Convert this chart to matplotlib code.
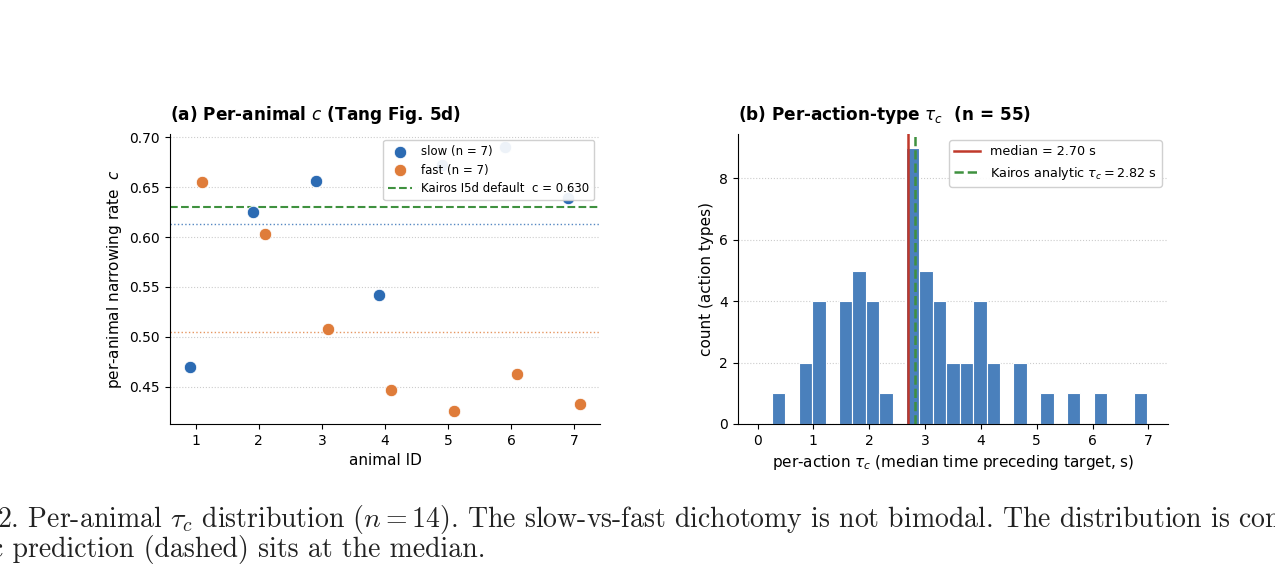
import matplotlib
matplotlib.use("Agg")
import matplotlib.pyplot as plt
import numpy as np

# panel (a): per-animal narrowing rate c
slow_ids = [1, 2, 3, 4, 5, 6, 7]
slow_c = [0.470, 0.625, 0.656, 0.542, 0.672, 0.690, 0.639]
fast_ids = [1, 2, 3, 4, 5, 6, 7]
fast_c = [0.655, 0.603, 0.508, 0.447, 0.426, 0.463, 0.433]
kairos_c = 0.630

# panel (b): per-action-type tau_c histogram (28 bins)
bin_lo = 0.26
bin_hi = 6.98
counts = [1, 0, 2, 4, 0, 4, 5, 4, 1, 0, 9, 5, 4, 2, 2, 4, 2, 0, 2, 0,
          1, 0, 1, 0, 1, 0, 0, 1]
median_tau = 2.70
kairos_tau = 2.82

C_SLOW = "#2c6bb3"
C_FAST = "#df7c3a"
C_BAR = "#4a80bc"
C_GREEN = "#3f913f"
C_RED = "#c0392b"

plt.rcParams["font.family"] = "DejaVu Sans"
plt.rcParams["font.size"] = 10
plt.rcParams["mathtext.fontset"] = "dejavusans"

fig = plt.figure(figsize=(12.75, 5.76), dpi=100)
ax1 = fig.add_axes([0.1333, 0.2639, 0.3373, 0.5035])
ax2 = fig.add_axes([0.5788, 0.2639, 0.3373, 0.5035])

# ---- (a)
ax1.scatter(np.array(slow_ids) - 0.1, slow_c, s=80, color=C_SLOW,
            edgecolor="white", linewidth=0.6, label="slow (n = 7)", zorder=3)
ax1.scatter(np.array(fast_ids) + 0.1, fast_c, s=80, color=C_FAST,
            edgecolor="white", linewidth=0.6, label="fast (n = 7)", zorder=3)
ax1.axhline(kairos_c, color=C_GREEN, ls="--", lw=1.5,
            label="Kairos I5d default  c = %.3f" % kairos_c, zorder=2)
ax1.axhline(np.mean(slow_c), color=C_SLOW, ls=":", lw=1.0, alpha=0.8, zorder=1)
ax1.axhline(np.mean(fast_c), color=C_FAST, ls=":", lw=1.0, alpha=0.8, zorder=1)
ax1.set_xticks(range(1, 8))
ax1.set_xlabel("animal ID", fontsize=11)
ax1.set_ylabel("per-animal narrowing rate  $c$", fontsize=11)
ax1.set_title("(a) Per-animal $c$ (Tang Fig. 5d)", loc="left",
              fontweight="bold", fontsize=12.2, pad=10)
ax1.legend(loc="upper right", fontsize=8.5, framealpha=0.92)
ax1.grid(axis="y", ls=":", color="#cccccc", lw=0.8)
ax1.set_axisbelow(True)

# ---- (b)
edges = np.linspace(bin_lo, bin_hi, len(counts) + 1)
ax2.bar(edges[:-1], counts, width=np.diff(edges), align="edge",
        color=C_BAR, edgecolor="white", linewidth=0.8, zorder=2)
ax2.axvline(median_tau, color=C_RED, lw=1.8,
            label="median = %.2f s" % median_tau, zorder=3)
ax2.axvline(kairos_tau, color=C_GREEN, ls="--", lw=1.8,
            label=r"Kairos analytic $\tau_c = %.2f$ s" % kairos_tau, zorder=3)
ax2.set_xlim(-0.35, 7.35)
ax2.set_xticks(range(0, 8))
ax2.set_yticks([0, 2, 4, 6, 8])
ax2.set_xlabel(r"per-action $\tau_c$ (median time preceding target, s)",
               fontsize=11)
ax2.set_ylabel("count (action types)", fontsize=11)
ax2.set_title(r"(b) Per-action-type $\tau_c$  (n = 55)", loc="left",
              fontweight="bold", fontsize=12.2, pad=10)
ax2.legend(loc="upper right", fontsize=9.2, framealpha=0.92)
ax2.grid(axis="y", ls=":", color="#cccccc", lw=0.8)
ax2.set_axisbelow(True)

for ax in (ax1, ax2):
    ax.spines["top"].set_visible(False)
    ax.spines["right"].set_visible(False)

# caption text from the page (clipped at the edges)
fig.text(-3 / 1275, 1 - 527 / 576,
         r"2. Per-animal $\tau_c$ distribution ($n = 14$). The slow-vs-fast "
         r"dichotomy is not bimodal. The distribution is con",
         family="cmr10", math_fontfamily="cm", fontsize=20,
         ha="left", va="baseline", color="#222222")
fig.text(-9 / 1275, 1 - 557 / 576,
         "c prediction (dashed) sits at the median.",
         family="cmr10", math_fontfamily="cm", fontsize=20,
         ha="left", va="baseline", color="#222222")

fig.savefig("out.png", dpi=100)
